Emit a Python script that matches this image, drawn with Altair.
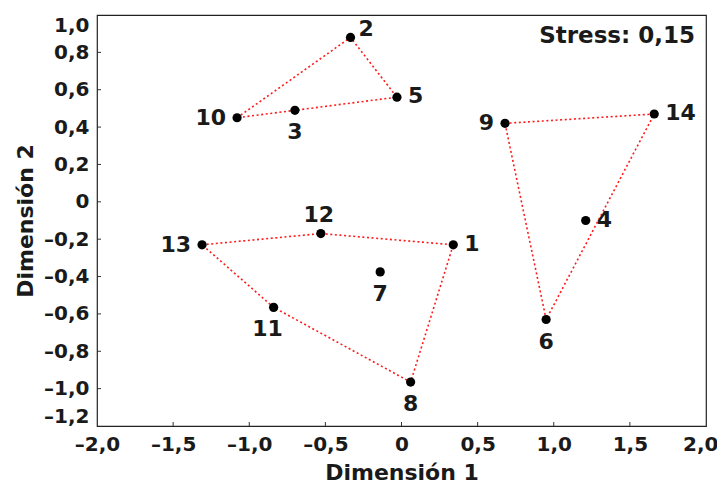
import altair as alt
import pandas as pd

# ---- data ----
labels = ["1", "2", "3", "4", "5", "6", "7", "8", "9", "10", "11", "12", "13", "14"]
dim1 = [0.34, -0.335, -0.70, 1.21, -0.03, 0.95, -0.14, 0.06, 0.68, -1.08, -0.84, -0.53, -1.31, 1.66]
dim2 = [-0.23, 0.88, 0.49, -0.10, 0.56, -0.63, -0.375, -0.965, 0.42, 0.45, -0.565, -0.17, -0.23, 0.47]

# polygons joining groups of points (closed)
polygons = {
    "A": ["10", "2", "5", "3", "10"],
    "B": ["9", "14", "6", "9"],
    "C": ["13", "12", "1", "8", "11", "13"],
}

# where each label sits relative to its point
placement = {
    "1": "right", "4": "right", "5": "right", "14": "right",
    "2": "upright",
    "9": "left", "10": "left", "13": "left",
    "3": "below", "6": "below", "7": "below", "8": "below",
    "11": "belowleft",
    "12": "above",
}

stress_text = "Stress: 0,15"
x_ticks = [-2.0, -1.5, -1.0, -0.5, 0.0, 0.5, 1.0, 1.5, 2.0]
y_ticks = [-1.2, -1.0, -0.8, -0.6, -0.4, -0.2, 0.0, 0.2, 0.4, 0.6, 0.8, 1.0]

# ---- tables ----
pts = pd.DataFrame({"label": labels, "d1": dim1, "d2": dim2})
pts["pos"] = pts["label"].map(placement)

lookup = {l: (a, b) for l, a, b in zip(labels, dim1, dim2)}
rows = []
for g, seq in polygons.items():
    for i, l in enumerate(seq):
        rows.append({"grp": g, "seq": i, "d1": lookup[l][0], "d2": lookup[l][1]})
lines_df = pd.DataFrame(rows)

W, H = 609, 411
FONT = "DejaVu Sans"
INK = "#1a1a1a"

lab_expr = ("datum.value == 0 ? '0' : (datum.value < 0 ? '\u2013' : '') + "
            "replace(format(abs(datum.value), '.1f'), '.', ',')")

xs = alt.Scale(domain=[-2.0, 2.0], nice=False, zero=False)
ys = alt.Scale(domain=[-1.2, 1.0], nice=False, zero=False)

xax = alt.Axis(values=x_ticks, labelExpr=lab_expr, title="Dimensión 1", labelPadding=8,
               titlePadding=8, labelFlush=False,
               labelAlign={"condition": {"test": "datum.value >= 2", "value": "right"},
                           "value": "center"},
               labelOffset={"condition": {"test": "datum.value >= 2", "value": 12},
                            "value": 0})
yax = alt.Axis(values=y_ticks, labelExpr=lab_expr, title="Dimensión 2", labelPadding=8,
               titlePadding=6, labelFlush=True)

X = alt.X("d1:Q", scale=xs, axis=xax)
Y = alt.Y("d2:Q", scale=ys, axis=yax)

base = alt.Chart(pts)

lines = alt.Chart(lines_df).mark_line(color="#ff1a1a", strokeWidth=1.6, strokeDash=[2, 2.6]).encode(
    x=X, y=Y, detail="grp:N", order="seq:Q",
)

points = base.mark_circle(size=85, color="black", opacity=1).encode(x=X, y=Y)

offsets = {
    "right": dict(dx=11, dy=-1, align="left"),
    "upright": dict(dx=8, dy=-8, align="left"),
    "left": dict(dx=-11, dy=0, align="right"),
    "below": dict(dx=0, dy=22, align="center"),
    "belowleft": dict(dx=-6, dy=22, align="center"),
    "above": dict(dx=-2, dy=-19, align="center"),
}
text_layers = []
for pos, o in offsets.items():
    text_layers.append(
        base.transform_filter(alt.datum.pos == pos).mark_text(
            font=FONT, fontSize=22, fontWeight="bold", color=INK,
            baseline="middle", **o
        ).encode(x=X, y=Y, text="label:N")
    )

xt = pd.DataFrame({"v": x_ticks[1:-1]})
yt = pd.DataFrame({"v": y_ticks[1:-1]})
xtick_marks = alt.Chart(xt).mark_rule(color="#333", strokeWidth=1).encode(
    x=alt.X("v:Q", scale=xs, axis=xax), y=alt.value(H), y2=alt.value(H - 4))
ytick_marks = alt.Chart(yt).mark_rule(color="#333", strokeWidth=1).encode(
    y=alt.Y("v:Q", scale=ys, axis=yax), x=alt.value(0), x2=alt.value(4))

stress = alt.Chart(pd.DataFrame({"t": [stress_text]})).mark_text(
    font=FONT, fontSize=23, fontWeight="bold", color=INK, align="right", baseline="middle"
).encode(x=alt.value(W - 11), y=alt.value(21), text="t:N")

chart = alt.layer(lines, points, *text_layers, xtick_marks, ytick_marks, stress).properties(
    width=W, height=H,
    background="white",
    autosize=alt.AutoSizeParams(type="none"),
    padding={"left": 89, "top": 7, "right": 11, "bottom": 58},
).configure_view(stroke="#222", strokeWidth=1.2).configure_axis(
    grid=False, domain=False, ticks=False, labelOverlap=False,
    labelFont=FONT, labelFontSize=20, labelFontWeight="bold", labelColor=INK,
    titleFont=FONT, titleFontSize=22, titleFontWeight="bold", titleColor=INK,
)

chart.save("out.html", embed_options={"renderer": "svg", "actions": False})
